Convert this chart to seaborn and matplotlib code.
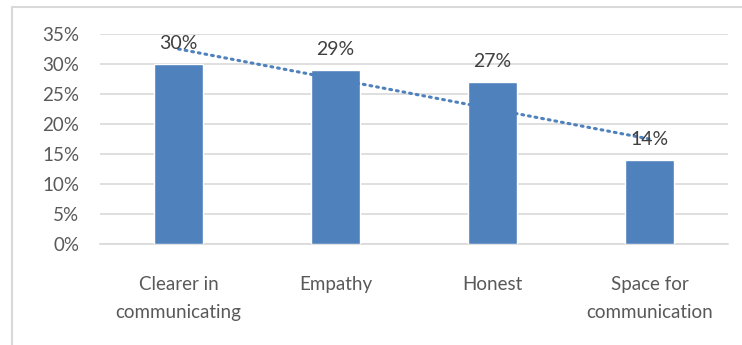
import numpy as np
import pandas as pd
import matplotlib
matplotlib.use("Agg")
import matplotlib.pyplot as plt
from matplotlib.lines import Line2D
from matplotlib.ticker import FuncFormatter
import seaborn as sns

categories = ["Clearer in\ncommunicating", "Empathy", "Honest", "Space for\ncommunication"]
shares = [0.30, 0.29, 0.27, 0.14]
y_ticks = [0.00, 0.05, 0.10, 0.15, 0.20, 0.25, 0.30, 0.35]

sns.set_theme(style="white")
plt.rcParams["font.family"] = ["Lato", "DejaVu Sans"]

bar_color = "#4f81bd"
text_color = "#595959"
grid_color = "#d9d9d9"

df = pd.DataFrame({"category": categories, "share": shares})

fig = plt.figure(figsize=(7.42, 3.45), dpi=100)
fig.patch.set_facecolor("white")
ax = fig.add_axes([100 / 742, 1 - 244 / 345, 628 / 742, 210 / 345])

sns.barplot(data=df, x="category", y="share", color=bar_color, width=0.31,
            saturation=1, ax=ax, zorder=3)

# linear trend across the categories
xs = np.arange(len(shares))
slope, intercept = np.polyfit(xs, shares, 1)
ax.plot(xs, slope * xs + intercept, color=bar_color, lw=2.2,
        linestyle=(0, (0.6, 1.6)), dash_capstyle="round", zorder=4)

for i, v in enumerate(shares):
    ax.annotate(f"{v * 100:.0f}%", (i, v), xytext=(0, 15), textcoords="offset points",
                ha="center", va="center", fontsize=14, color="#404040", zorder=5)

ax.set_ylim(0, 0.35)
ax.set_xlim(-0.5, len(shares) - 0.5)
ax.set_yticks(y_ticks)
ax.yaxis.set_major_formatter(FuncFormatter(lambda v, _: f"{v * 100:.0f}%"))
ax.yaxis.grid(True, color=grid_color, lw=1.2, zorder=0)
ax.set_axisbelow(True)
ax.set_xlabel("")
ax.set_ylabel("")
for side in ["top", "left", "right"]:
    ax.spines[side].set_visible(False)
ax.spines["bottom"].set_color(grid_color)
ax.spines["bottom"].set_linewidth(1.2)
ax.tick_params(axis="y", length=0, pad=15, labelsize=13.5, labelcolor=text_color)
ax.tick_params(axis="x", length=0, pad=23, labelsize=13.5, labelcolor=text_color)
for lbl in ax.get_xticklabels():
    lbl.set_linespacing(1.8)

# chart frame
fig.add_artist(Line2D([12 / 742, 1], [1 - 7 / 345, 1 - 7 / 345], transform=fig.transFigure,
                      color=grid_color, lw=1.5))
fig.add_artist(Line2D([12 / 742, 12 / 742], [0, 1 - 7 / 345], transform=fig.transFigure,
                      color=grid_color, lw=1.5))

fig.savefig("out.png", dpi=100)
